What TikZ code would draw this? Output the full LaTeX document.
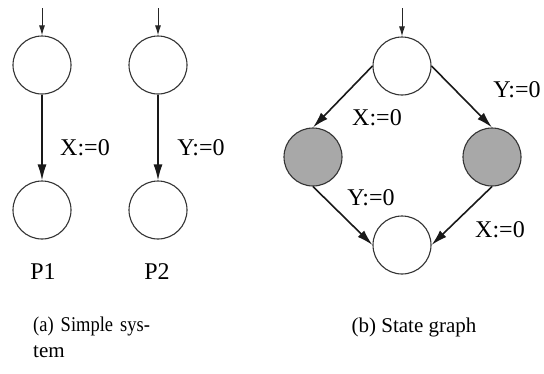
\documentclass[tikz,border=0pt]{standalone}
\usepackage{fontspec}
\setmainfont{Liberation Serif}
\usetikzlibrary{arrows.meta}
\definecolor{shade}{RGB}{168,168,168}
\tikzset{
  state/.style={circle, draw=black!80, line width=1.1pt, minimum size=58pt, inner sep=0pt},
  shaded/.style={state, fill=shade},
  trans/.style={draw=black!90, line width=1.6pt, -{Latex[length=16pt,width=9pt]}},
  entry/.style={draw=black!85, line width=1pt, -{Latex[length=10pt,width=6pt]}},
  lbl/.style={font=\fontsize{24}{28}\selectfont, inner sep=0pt},
  captxt/.style={font=\fontsize{21}{25}\selectfont, inner sep=0pt}
}
\begin{document}
\begin{tikzpicture}[x=1pt,y=-1pt]
\useasboundingbox (0,0) rectangle (544,373);
% (a)
\node[state] (a1) at (42,65) {};
\node[state] (a2) at (42,210) {};
\node[state] (b1) at (158,65) {};
\node[state] (b2) at (158,210) {};
\coordinate (ea) at (42,8);
\coordinate (eb) at (158,8);
\draw[entry] (ea) -- (a1);
\draw[entry] (eb) -- (b1);
\draw[trans] (a1) -- (a2);
\draw[trans] (b1) -- (b2);
\node[lbl] (lx) at (85,148) {X:=0};
\node[lbl] (ly) at (201,148) {Y:=0};
\node[lbl] (p1) at (43,272) {P1};
\node[lbl] (p2) at (157,272) {P2};
\node[captxt, anchor=west] (ca1) at (33,326) {\scalebox{0.88}[1]{(a)\hspace{8pt}Simple\hspace{8pt}sys-}};
\node[captxt, anchor=west] (ca2) at (33,352) {tem};
% (b)
\node[state] (s0) at (402,66) {};
\node[shaded] (sl) at (313,157) {};
\node[shaded] (sr) at (492,157) {};
\node[state] (s3) at (402,245) {};
\coordinate (es) at (402,8);
\draw[entry] (es) -- (s0);
\draw[trans] (s0.west) -- (sl.north);
\draw[trans] (s0.east) -- (sr.north);
\draw[trans] (sl.south) -- (s3.west);
\draw[trans] (sr.south) -- (s3.east);
\node[lbl] (t1) at (377,118) {X:=0};
\node[lbl] (t2) at (517,90) {Y:=0};
\node[lbl] (t3) at (371,198) {Y:=0};
\node[lbl] (t4) at (500,230) {X:=0};
\node[captxt] (cb) at (414,327) {(b) State graph};
\end{tikzpicture}
\end{document}
